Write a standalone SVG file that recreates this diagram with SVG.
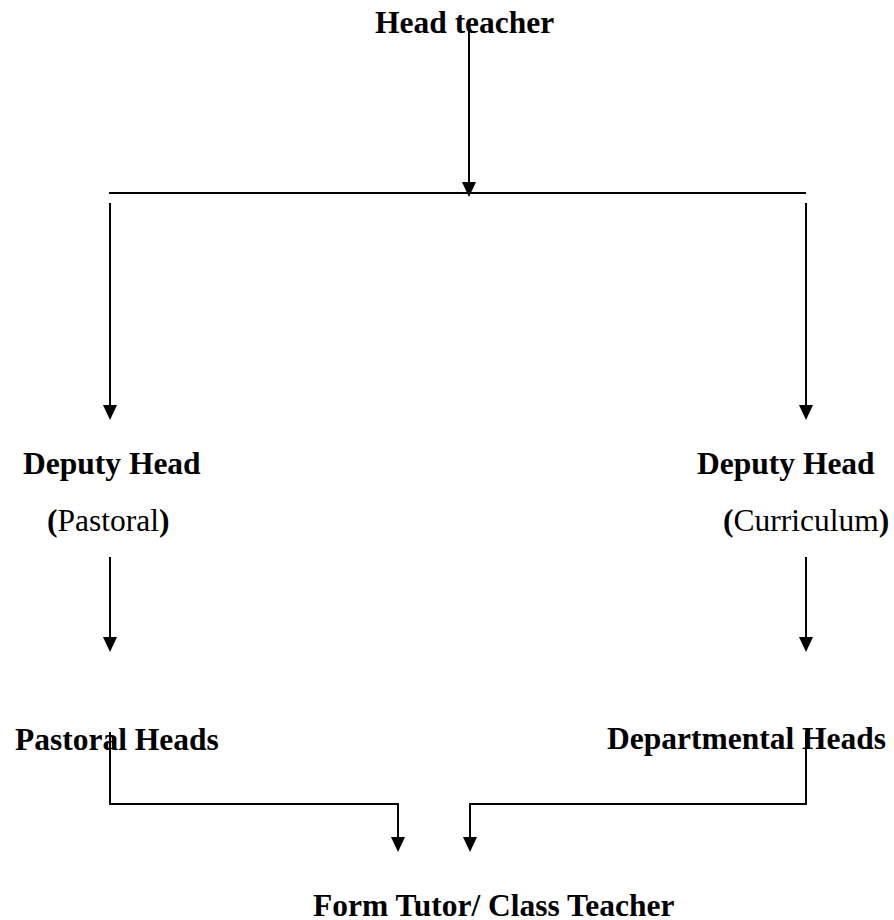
<svg xmlns="http://www.w3.org/2000/svg" width="894" height="920" viewBox="0 0 894 920">
<defs>
<style>
.t{font-family:"Liberation Serif","Times New Roman",serif;font-size:31.5px;fill:#000}
.b{font-weight:bold}
.c{fill:none;stroke:#000;stroke-width:2}
.h{fill:#000}
</style>
</defs>
<rect width="894" height="920" fill="#fff"/>
<g id="head-teacher"><text class="t b" x="375" y="33">Head teacher</text></g>
<g id="deputy-pastoral"><text class="t b" x="23" y="474">Deputy Head</text><text class="t" x="47" y="531"><tspan class="b">(</tspan>Pastoral<tspan class="b">)</tspan></text></g>
<g id="deputy-curriculum"><text class="t b" x="697" y="474">Deputy Head</text><text class="t" x="723" y="531"><tspan class="b">(</tspan>Curriculum<tspan class="b">)</tspan></text></g>
<g id="pastoral-heads"><text class="t b" x="15" y="750">Pastoral Heads</text></g>
<g id="departmental-heads"><text class="t b" x="607" y="749">Departmental Heads</text></g>
<g id="form-tutor"><text class="t b" x="313" y="916">Form Tutor/ Class Teacher</text></g>
<g id="connectors">
<path class="c" d="M469 30 V183"/>
<path class="h" d="M462 182 L476 182 L469 197 Z"/>
<path class="c" d="M109 193 H806"/>
<path class="c" d="M110 203 V406"/>
<path class="h" d="M103 405 L117 405 L110 420 Z"/>
<path class="c" d="M806 203 V406"/>
<path class="h" d="M799 405 L813 405 L806 420 Z"/>
<path class="c" d="M110 557 V638"/>
<path class="h" d="M103 637 L117 637 L110 652 Z"/>
<path class="c" d="M806 557 V638"/>
<path class="h" d="M799 637 L813 637 L806 652 Z"/>
<path class="c" d="M110 732 V804 H398 V838"/>
<path class="h" d="M391 837 L405 837 L398 852 Z"/>
<path class="c" d="M806 732 V804 H470 V838"/>
<path class="h" d="M463 837 L477 837 L470 852 Z"/>
</g>
</svg>
